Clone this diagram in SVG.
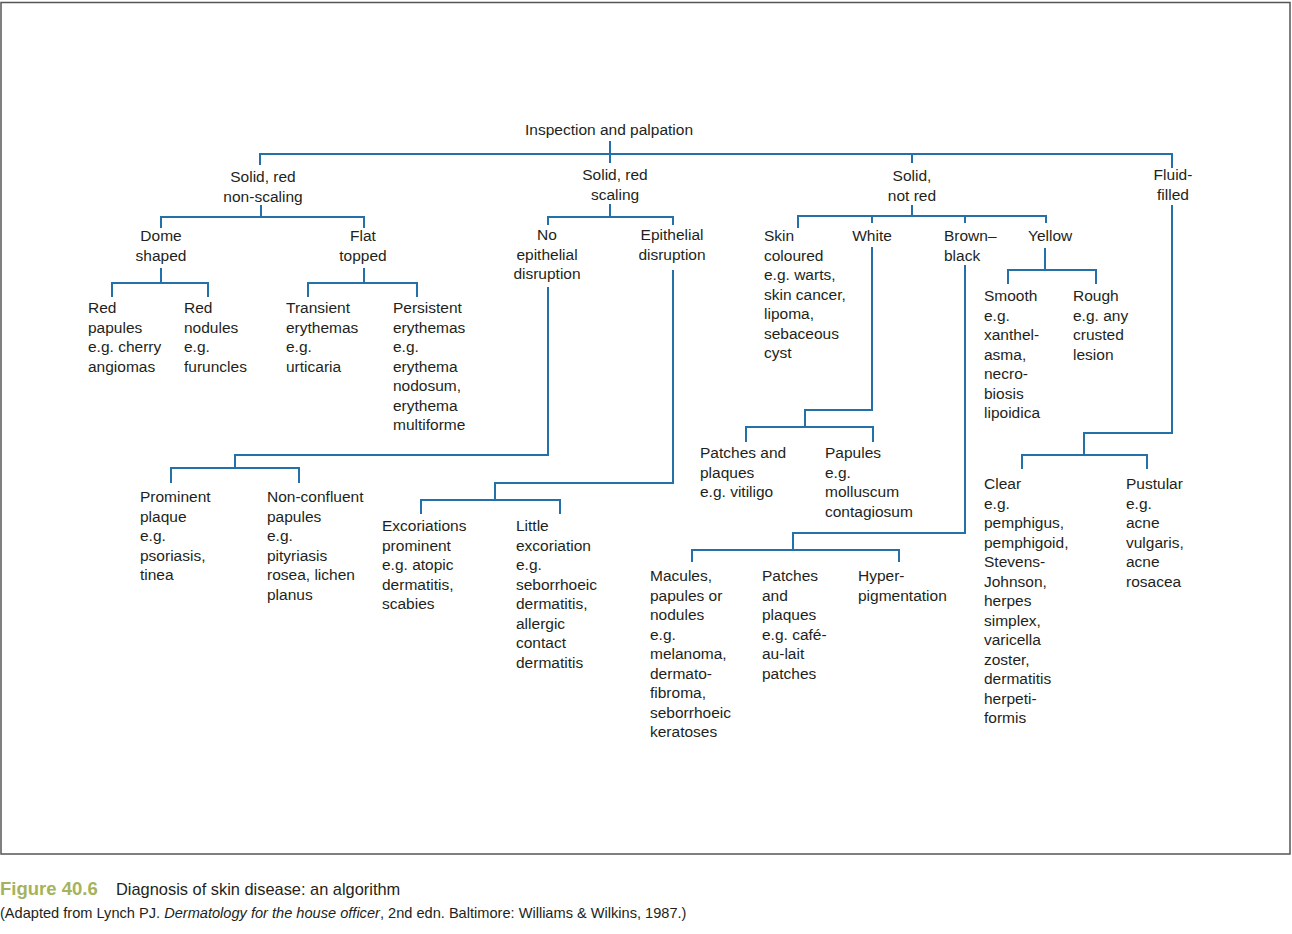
<svg xmlns="http://www.w3.org/2000/svg" width="1292" height="934" viewBox="0 0 1292 934">
<style>
.t{font-family:"Liberation Sans",Arial,sans-serif;font-size:15.5px;fill:#231f20}
.m{text-anchor:middle}
.c{fill:none;stroke:#2470a8;stroke-width:2;stroke-linejoin:miter}
.frame{fill:#fff;stroke:#555;stroke-width:1.5}
.cap{font-family:"Liberation Sans",Arial,sans-serif;fill:#231f20}
</style>
<rect width="1292" height="934" fill="#fff"/>
<rect class="frame" x="1" y="2.5" width="1289" height="851.5"/>
<g id="connectors">
<path class="c" d="M260,165 V154 H1172 V168 M610,141 V163 M912,154 V163"/>
<path class="c" d="M261,205 V217 M161,228 V217 H364 V228"/>
<path class="c" d="M161,268 V283 M112,297 V283 H208 V297"/>
<path class="c" d="M364,268 V283 M308,297 V283 H417 V297"/>
<path class="c" d="M610,204 V217 M548,225 V217 H673 V225"/>
<path class="c" d="M548,287 V455 H235 V468 M171,483 V468 H299 V483"/>
<path class="c" d="M673,270 V483 H495 V500 M421,514 V500 H560 V514"/>
<path class="c" d="M912,205 V216 M798,228 V216 H1046 V223 M872,216 V223 M965,216 V223"/>
<path class="c" d="M872,247 V410 H805 V427 M746,442 V427 H873 V442"/>
<path class="c" d="M965,265 V533 H793 V550 M692,562 V550 H899 V562"/>
<path class="c" d="M1045,248 V270 M1008,284 V270 H1096 V284"/>
<path class="c" d="M1172,205 V433 H1084 V455 M1022,469 V455 H1147 V469"/>
</g>
<g id="n_root"><text class="t m" x="609" y="135">Inspection and palpation</text></g>
<g id="n_nonscaling"><text class="t m" y="182"><tspan x="263">Solid, red</tspan><tspan x="263" dy="20">non-scaling</tspan></text></g>
<g id="n_scaling"><text class="t m" y="180"><tspan x="615">Solid, red</tspan><tspan x="615" dy="20">scaling</tspan></text></g>
<g id="n_notred"><text class="t m" y="181"><tspan x="912">Solid,</tspan><tspan x="912" dy="19.5">not red</tspan></text></g>
<g id="n_fluid"><text class="t m" y="180"><tspan x="1173">Fluid-</tspan><tspan x="1173" dy="19.5">filled</tspan></text></g>
<g id="n_dome"><text class="t m" y="241"><tspan x="161">Dome</tspan><tspan x="161" dy="19.5">shaped</tspan></text></g>
<g id="n_flat"><text class="t m" y="241"><tspan x="363">Flat</tspan><tspan x="363" dy="19.5">topped</tspan></text></g>
<g id="n_noepi"><text class="t m" y="240"><tspan x="547">No</tspan><tspan x="547" dy="19.5">epithelial</tspan><tspan x="547" dy="19.5">disruption</tspan></text></g>
<g id="n_epi"><text class="t m" y="240"><tspan x="672">Epithelial</tspan><tspan x="672" dy="19.5">disruption</tspan></text></g>
<g id="n_skin"><text class="t" y="241"><tspan x="764">Skin</tspan><tspan x="764" dy="19.5">coloured</tspan><tspan x="764" dy="19.5">e.g. warts,</tspan><tspan x="764" dy="19.5">skin cancer,</tspan><tspan x="764" dy="19.5">lipoma,</tspan><tspan x="764" dy="19.5">sebaceous</tspan><tspan x="764" dy="19.5">cyst</tspan></text></g>
<g id="n_white"><text class="t m" x="872" y="241">White</text></g>
<g id="n_brown"><text class="t" y="241"><tspan x="944">Brown–</tspan><tspan x="944" dy="19.5">black</tspan></text></g>
<g id="n_yellow"><text class="t" x="1028" y="241">Yellow</text></g>
<g id="n_redpap"><text class="t" y="313"><tspan x="88">Red</tspan><tspan x="88" dy="19.5">papules</tspan><tspan x="88" dy="19.5">e.g. cherry</tspan><tspan x="88" dy="19.5">angiomas</tspan></text></g>
<g id="n_rednod"><text class="t" y="313"><tspan x="184">Red</tspan><tspan x="184" dy="19.5">nodules</tspan><tspan x="184" dy="19.5">e.g.</tspan><tspan x="184" dy="19.5">furuncles</tspan></text></g>
<g id="n_transient"><text class="t" y="313"><tspan x="286">Transient</tspan><tspan x="286" dy="19.5">erythemas</tspan><tspan x="286" dy="19.5">e.g.</tspan><tspan x="286" dy="19.5">urticaria</tspan></text></g>
<g id="n_persistent"><text class="t" y="313"><tspan x="393">Persistent</tspan><tspan x="393" dy="19.5">erythemas</tspan><tspan x="393" dy="19.5">e.g.</tspan><tspan x="393" dy="19.5">erythema</tspan><tspan x="393" dy="19.5">nodosum,</tspan><tspan x="393" dy="19.5">erythema</tspan><tspan x="393" dy="19.5">multiforme</tspan></text></g>
<g id="n_prominent"><text class="t" y="502"><tspan x="140">Prominent</tspan><tspan x="140" dy="19.5">plaque</tspan><tspan x="140" dy="19.5">e.g.</tspan><tspan x="140" dy="19.5">psoriasis,</tspan><tspan x="140" dy="19.5">tinea</tspan></text></g>
<g id="n_nonconfluent"><text class="t" y="502"><tspan x="267">Non-confluent</tspan><tspan x="267" dy="19.5">papules</tspan><tspan x="267" dy="19.5">e.g.</tspan><tspan x="267" dy="19.5">pityriasis</tspan><tspan x="267" dy="19.5">rosea, lichen</tspan><tspan x="267" dy="19.5">planus</tspan></text></g>
<g id="n_excoriations"><text class="t" y="531"><tspan x="382">Excoriations</tspan><tspan x="382" dy="19.5">prominent</tspan><tspan x="382" dy="19.5">e.g. atopic</tspan><tspan x="382" dy="19.5">dermatitis,</tspan><tspan x="382" dy="19.5">scabies</tspan></text></g>
<g id="n_little"><text class="t" y="531"><tspan x="516">Little</tspan><tspan x="516" dy="19.5">excoriation</tspan><tspan x="516" dy="19.5">e.g.</tspan><tspan x="516" dy="19.5">seborrhoeic</tspan><tspan x="516" dy="19.5">dermatitis,</tspan><tspan x="516" dy="19.5">allergic</tspan><tspan x="516" dy="19.5">contact</tspan><tspan x="516" dy="19.5">dermatitis</tspan></text></g>
<g id="n_patchesplaques"><text class="t" y="458"><tspan x="700">Patches and</tspan><tspan x="700" dy="19.5">plaques</tspan><tspan x="700" dy="19.5">e.g. vitiligo</tspan></text></g>
<g id="n_papules"><text class="t" y="458"><tspan x="825">Papules</tspan><tspan x="825" dy="19.5">e.g.</tspan><tspan x="825" dy="19.5">molluscum</tspan><tspan x="825" dy="19.5">contagiosum</tspan></text></g>
<g id="n_macules"><text class="t" y="581"><tspan x="650">Macules,</tspan><tspan x="650" dy="19.5">papules or</tspan><tspan x="650" dy="19.5">nodules</tspan><tspan x="650" dy="19.5">e.g.</tspan><tspan x="650" dy="19.5">melanoma,</tspan><tspan x="650" dy="19.5">dermato-</tspan><tspan x="650" dy="19.5">fibroma,</tspan><tspan x="650" dy="19.5">seborrhoeic</tspan><tspan x="650" dy="19.5">keratoses</tspan></text></g>
<g id="n_patches"><text class="t" y="581"><tspan x="762">Patches</tspan><tspan x="762" dy="19.5">and</tspan><tspan x="762" dy="19.5">plaques</tspan><tspan x="762" dy="19.5">e.g. café-</tspan><tspan x="762" dy="19.5">au-lait</tspan><tspan x="762" dy="19.5">patches</tspan></text></g>
<g id="n_hyper"><text class="t" y="581"><tspan x="858">Hyper-</tspan><tspan x="858" dy="19.5">pigmentation</tspan></text></g>
<g id="n_smooth"><text class="t" y="301"><tspan x="984">Smooth</tspan><tspan x="984" dy="19.5">e.g.</tspan><tspan x="984" dy="19.5">xanthel-</tspan><tspan x="984" dy="19.5">asma,</tspan><tspan x="984" dy="19.5">necro-</tspan><tspan x="984" dy="19.5">biosis</tspan><tspan x="984" dy="19.5">lipoidica</tspan></text></g>
<g id="n_rough"><text class="t" y="301"><tspan x="1073">Rough</tspan><tspan x="1073" dy="19.5">e.g. any</tspan><tspan x="1073" dy="19.5">crusted</tspan><tspan x="1073" dy="19.5">lesion</tspan></text></g>
<g id="n_clear"><text class="t" y="489"><tspan x="984">Clear</tspan><tspan x="984" dy="19.5">e.g.</tspan><tspan x="984" dy="19.5">pemphigus,</tspan><tspan x="984" dy="19.5">pemphigoid,</tspan><tspan x="984" dy="19.5">Stevens-</tspan><tspan x="984" dy="19.5">Johnson,</tspan><tspan x="984" dy="19.5">herpes</tspan><tspan x="984" dy="19.5">simplex,</tspan><tspan x="984" dy="19.5">varicella</tspan><tspan x="984" dy="19.5">zoster,</tspan><tspan x="984" dy="19.5">dermatitis</tspan><tspan x="984" dy="19.5">herpeti-</tspan><tspan x="984" dy="19.5">formis</tspan></text></g>
<g id="n_pustular"><text class="t" y="489"><tspan x="1126">Pustular</tspan><tspan x="1126" dy="19.5">e.g.</tspan><tspan x="1126" dy="19.5">acne</tspan><tspan x="1126" dy="19.5">vulgaris,</tspan><tspan x="1126" dy="19.5">acne</tspan><tspan x="1126" dy="19.5">rosacea</tspan></text></g>
<g id="caption">
<text class="cap" x="0" y="895" font-size="18.5" font-weight="bold" style="fill:#a6b35a">Figure 40.6</text>
<text class="cap" x="116" y="895" font-size="16.4">Diagnosis of skin disease: an algorithm</text>
<text class="cap" x="0" y="918" font-size="14.6">(Adapted from Lynch PJ. <tspan font-style="italic">Dermatology for the house officer</tspan>, 2nd edn. Baltimore: Williams &amp; Wilkins, 1987.)</text>
</g>
</svg>
